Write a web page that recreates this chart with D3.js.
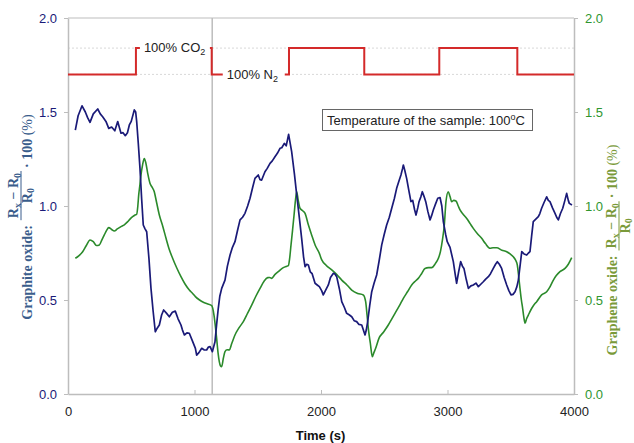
<!DOCTYPE html>
<html>
<head>
<meta charset="utf-8">
<script src="https://cdn.jsdelivr.net/npm/d3@7"></script>
<style>
  html, body { margin: 0; padding: 0; background: #fff; }
  svg { display: block; }
</style>
</head>
<body>
<svg id="chart" width="634" height="443"></svg>
<script>
// ---------------- DATA ----------------
const xTicks = [0, 1000, 2000, 3000, 4000];
const yTicks = [0, 0.5, 1.0, 1.5, 2.0];

// Graphite oxide (left axis) : [time s, value %]
const graphiteT = [58,80,111,137,155,174,200,235,255,274,300,322,345,370,393,405,419,435,453,470,485,500,524,535,543,556,569,582,595,608,622,640,656,673,690,705,722,740,756,778,801,825,848,870,893,905,920,940,959,985,1007,1017,1035,1057,1075,1096,1110,1123,1141,1162,1175,1188,1200,1215,1241,1260,1281,1300,1320,1340,1360,1380,1399,1420,1439,1460,1478,1504,1518,1531,1557,1575,1597,1615,1636,1655,1676,1690,1710,1725,1744,1768,1790,1808,1830,1847,1862,1874,1887,1900,1915,1930,1953,1970,1987,2005,2018,2035,2058,2075,2098,2110,2124,2145,2164,2185,2203,2225,2243,2262,2282,2300,2322,2335,2348,2358,2369,2385,2401,2420,2440,2460,2480,2500,2519,2540,2559,2580,2598,2615,2632,2645,2651,2662,2677,2695,2711,2725,2740,2751,2765,2775,2790,2801,2815,2828,2845,2862,2875,2888,2905,2923,2941,2955,2967,2985,2998,3020,3046,3060,3072,3088,3104,3118,3130,3148,3165,3185,3204,3225,3244,3265,3283,3300,3323,3340,3362,3380,3394,3410,3428,3448,3468,3485,3502,3518,3534,3548,3560,3575,3587,3605,3626,3640,3652,3665,3678,3698,3718,3730,3744,3764,3784,3797,3810,3830,3850,3863,3876,3893,3911,3928,3942,3955,3963,3984];
const graphiteV = [1.404,1.48,1.533,1.50,1.47,1.445,1.49,1.516,1.49,1.475,1.45,1.413,1.42,1.40,1.449,1.42,1.387,1.39,1.374,1.39,1.431,1.45,1.511,1.50,1.449,1.33,1.20,1.04,0.899,0.88,0.863,0.72,0.562,0.44,0.331,0.35,0.367,0.42,0.447,0.43,0.411,0.435,0.441,0.40,0.367,0.34,0.314,0.325,0.323,0.28,0.243,0.207,0.22,0.243,0.235,0.234,0.25,0.252,0.225,0.278,0.37,0.456,0.52,0.562,0.606,0.68,0.739,0.78,0.81,0.87,0.926,0.94,0.961,1.00,1.041,1.10,1.147,1.165,1.14,1.138,1.182,1.20,1.227,1.24,1.262,1.28,1.307,1.31,1.333,1.32,1.381,1.289,1.17,1.059,0.93,0.828,0.73,0.677,0.69,0.686,0.65,0.64,0.589,0.58,0.571,0.55,0.527,0.55,0.58,0.62,0.642,0.638,0.624,0.56,0.491,0.46,0.429,0.42,0.411,0.39,0.385,0.37,0.367,0.34,0.314,0.34,0.385,0.47,0.544,0.59,0.633,0.71,0.793,0.85,0.899,0.94,0.988,1.04,1.094,1.13,1.165,1.20,1.218,1.19,1.147,1.08,1.023,1.03,0.98,0.952,0.99,1.023,1.05,1.076,1.05,1.023,0.97,0.926,0.95,0.979,1.01,1.041,1.045,1.00,0.917,0.85,0.81,0.78,0.704,0.64,0.589,0.65,0.704,0.68,0.668,0.61,0.562,0.575,0.58,0.59,0.571,0.585,0.597,0.61,0.624,0.64,0.668,0.69,0.704,0.69,0.668,0.62,0.58,0.55,0.527,0.53,0.544,0.57,0.606,0.69,0.757,0.745,0.739,0.75,0.757,0.84,0.917,0.93,0.943,0.96,0.988,1.02,1.049,1.03,1.023,0.99,0.961,0.94,0.926,0.96,0.988,1.03,1.067,1.03,1.014,1.005];

// Graphene oxide (right axis)
const grapheneT = [58,85,116,145,174,200,225,248,268,287,305,322,345,366,390,419,445,472,490,511,530,543,552,559,568,577,590,603,615,630,648,665,682,700,722,750,775,800,827,860,893,925,959,985,1007,1040,1070,1100,1136,1154,1165,1175,1186,1196,1205,1215,1228,1241,1258,1275,1295,1320,1350,1386,1420,1452,1485,1518,1550,1579,1595,1610,1635,1663,1702,1730,1742,1752,1763,1775,1787,1798,1808,1820,1834,1855,1874,1900,1926,1955,1987,2006,2040,2085,2125,2164,2205,2243,2290,2334,2353,2364,2374,2390,2406,2418,2432,2458,2495,2532,2560,2585,2620,2651,2685,2717,2745,2769,2795,2822,2850,2875,2905,2928,2945,2960,2975,2988,3006,3020,3033,3050,3067,3085,3099,3125,3152,3180,3204,3240,3270,3300,3336,3360,3389,3430,3468,3495,3520,3540,3552,3562,3573,3584,3594,3603,3613,3625,3639,3666,3690,3705,3744,3784,3810,3837,3860,3889,3929,3955,3982];
const grapheneV = [0.722,0.735,0.757,0.79,0.819,0.81,0.79,0.793,0.82,0.846,0.87,0.885,0.875,0.867,0.878,0.89,0.90,0.917,0.93,0.943,0.952,0.956,1.00,1.059,1.11,1.165,1.22,1.253,1.23,1.174,1.121,1.10,1.076,1.02,0.952,0.89,0.828,0.77,0.722,0.67,0.624,0.585,0.553,0.535,0.518,0.50,0.488,0.48,0.47,0.42,0.36,0.296,0.22,0.172,0.15,0.145,0.19,0.225,0.235,0.234,0.27,0.314,0.35,0.385,0.43,0.473,0.52,0.562,0.60,0.619,0.62,0.615,0.635,0.651,0.672,0.68,0.683,0.72,0.793,0.87,0.952,1.03,1.076,1.03,0.988,0.975,0.961,0.90,0.846,0.79,0.748,0.713,0.685,0.66,0.635,0.606,0.58,0.553,0.535,0.527,0.491,0.42,0.349,0.27,0.198,0.22,0.243,0.296,0.33,0.367,0.40,0.429,0.47,0.509,0.545,0.58,0.60,0.615,0.64,0.668,0.672,0.672,0.695,0.722,0.76,0.82,0.90,1.023,1.076,1.05,1.023,1.03,1.027,1.00,0.979,0.955,0.934,0.905,0.881,0.85,0.828,0.80,0.775,0.778,0.778,0.765,0.757,0.745,0.73,0.71,0.686,0.63,0.562,0.50,0.456,0.41,0.376,0.40,0.42,0.456,0.48,0.491,0.527,0.544,0.57,0.606,0.63,0.651,0.668,0.69,0.725];

// Gas switching (step signal, drawn on left scale)
const gasTimes  = [0, 537, 1136, 1747, 2342, 2935, 3552, 4000];
const gasLevels = [1.70, 1.84, 1.70, 1.84, 1.70, 1.84, 1.70, 1.70];
const refLevels = [1.70, 1.84];
const markerTime = 1140;

// ---------------- LAYOUT ----------------
const svg = d3.select("#chart");
const L = 68, R = 574, T = 18, B = 394;
const x = d3.scaleLinear().domain([0, 4000]).range([L, R]);
const y = d3.scaleLinear().domain([0, 2]).range([B, T]);
const y2 = d3.scaleLinear().domain([0, 2]).range([B, T]);

const navy = "#1a1a78", green = "#2b8a2b", red = "#d42a2a", frame = "#bdbdbd";
const sans = "'Liberation Sans', Arial, Helvetica, sans-serif";
const serif = "'Liberation Serif', 'Times New Roman', serif";

// reference dotted lines
svg.append("g").selectAll("line").data(refLevels).join("line")
  .attr("x1", L).attr("x2", R)
  .attr("y1", d => y(d)).attr("y2", d => y(d))
  .attr("stroke", "#d8d8d8").attr("stroke-width", 1)
  .attr("stroke-dasharray", "2,2");

// top frame
svg.append("line").attr("x1", L).attr("x2", R).attr("y1", T).attr("y2", T)
  .attr("stroke", frame).attr("stroke-width", 1);

// vertical marker
svg.append("line").attr("x1", x(markerTime)).attr("x2", x(markerTime))
  .attr("y1", T).attr("y2", B).attr("stroke", frame).attr("stroke-width", 1.5);

// axes
function styleAxis(g, col) {
  g.select(".domain").attr("stroke", frame).attr("stroke-width", 1.5);
  g.selectAll(".tick line").attr("stroke", frame);
  g.selectAll(".tick text").attr("fill", col).attr("font-family", sans).attr("font-size", 13);
}
const fmt = d3.format(".1f");
svg.append("g").attr("transform", `translate(${L},0)`)
  .call(d3.axisLeft(y).tickValues(yTicks).tickFormat(fmt).tickSizeInner(4).tickSizeOuter(0).tickPadding(7))
  .call(g => styleAxis(g, navy));
svg.append("g").attr("transform", `translate(${R},0)`)
  .call(d3.axisRight(y2).tickValues(yTicks).tickFormat(fmt).tickSizeInner(4).tickSizeOuter(0).tickPadding(7))
  .call(g => styleAxis(g, "#2f962f"));
svg.append("g").attr("transform", `translate(0,${B})`)
  .call(d3.axisBottom(x).tickValues(xTicks).tickFormat(d3.format("d")).tickSizeInner(-4).tickSizeOuter(0).tickPadding(13))
  .call(g => styleAxis(g, "#222"));

// gas step line
const gas = gasTimes.map((t, i) => [t, gasLevels[i]]);
svg.append("path").datum(gas)
  .attr("d", d3.line().x(d => x(d[0])).y(d => y(d[1])).curve(d3.curveStepAfter))
  .attr("fill", "none").attr("stroke", red).attr("stroke-width", 2);

// gas labels with white backgrounds
function gasLabel(px, py, txt, sub, bgW) {
  const g = svg.append("g");
  g.append("rect").attr("x", px - 4).attr("y", py - 14).attr("width", bgW).attr("height", 20).attr("fill", "#fff");
  const t = g.append("text").attr("x", px).attr("y", py).attr("font-family", sans).attr("font-size", 13).attr("fill", "#222");
  t.append("tspan").text(txt);
  t.append("tspan").attr("font-size", 9).attr("dy", 3).text(sub);
}
gasLabel(x(600), 52, "100% CO", "2", 70);
gasLabel(x(1255), 79, "100% N", "2", 62);

// data lines
const gData = graphiteT.map((t, i) => [t, graphiteV[i]]);
const eData = grapheneT.map((t, i) => [t, grapheneV[i]]);
svg.append("path").datum(eData)
  .attr("d", d3.line().x(d => x(d[0])).y(d => y2(d[1])).curve(d3.curveMonotoneX))
  .attr("fill", "none").attr("stroke", green).attr("stroke-width", 1.6);
svg.append("path").datum(gData)
  .attr("d", d3.line().x(d => x(d[0])).y(d => y(d[1])))
  .attr("fill", "none").attr("stroke", navy).attr("stroke-width", 1.7).attr("stroke-linejoin", "round");

// info box
const box = svg.append("g");
box.append("rect").attr("x", 322.5).attr("y", 109.5).attr("width", 210).attr("height", 21)
  .attr("fill", "#fff").attr("stroke", "#666").attr("stroke-width", 1);
const bt = box.append("text").attr("x", 327).attr("y", 125).attr("font-family", sans).attr("font-size", 13).attr("fill", "#222");
bt.append("tspan").text("Temperature of the sample: 100");
bt.append("tspan").attr("font-size", 9).attr("dy", -5).text("o");
bt.append("tspan").attr("dy", 5).text("C");

// x title
svg.append("text").attr("x", (L + R) / 2 - 0.5).attr("y", 440).attr("text-anchor", "middle")
  .attr("font-family", sans).attr("font-size", 13).attr("font-weight", "bold").attr("fill", "#111")
  .text("Time (s)");

// y titles with fraction
function fracTitle(cx, cy, label, col, numBase, barY, denBase, mainBase) {
  const g = svg.append("g").attr("transform", `translate(${cx},${cy}) rotate(-90)`);
  const fs = 14;
  const main = g.append("text").attr("font-family", serif).attr("font-size", fs).attr("font-weight", "bold")
    .attr("fill", col).attr("y", mainBase).text(label);
  const w0 = main.node().getComputedTextLength() + 5;
  // numerator
  const num = g.append("text").attr("font-family", serif).attr("font-size", fs).attr("font-weight", "bold")
    .attr("fill", col).attr("y", numBase);
  num.append("tspan").text("R");
  num.append("tspan").attr("font-size", 10).attr("dy", 3).text("x");
  num.append("tspan").attr("dy", -3).text(" \u2212 R");
  num.append("tspan").attr("font-size", 10).attr("dy", 3).text("0");
  const wn = num.node().getComputedTextLength();
  const fw = wn + 4;
  num.attr("x", w0 + (fw - wn) / 2);
  g.append("line").attr("x1", w0).attr("x2", w0 + fw).attr("y1", barY).attr("y2", barY)
    .attr("stroke", col).attr("stroke-width", 1);
  const den = g.append("text").attr("font-family", serif).attr("font-size", fs).attr("font-weight", "bold")
    .attr("fill", col).attr("y", denBase);
  den.append("tspan").text("R");
  den.append("tspan").attr("font-size", 10).attr("dy", 2).text("0");
  const wd = den.node().getComputedTextLength();
  den.attr("x", w0 + (fw - wd) / 2);
  const tail = g.append("text").attr("font-family", serif).attr("font-size", fs).attr("fill", col)
    .attr("x", w0 + fw + 3).attr("y", mainBase);
  tail.append("tspan").attr("font-weight", "bold").text("\u00b7 100 ");
  tail.append("tspan").text("(%)");
  const total = w0 + fw + 3 + tail.node().getComputedTextLength();
  g.selectAll("text, line").attr("transform", `translate(${-total / 2},0)`);
}
fracTitle(0, 217, "Graphite oxide:", "#3a5d8c", 18, 21, 32, 32);
fracTitle(0, 250, "Graphene oxide:", "#7a9a3a", 616, 619, 630, 617);
</script>
</body>
</html>
